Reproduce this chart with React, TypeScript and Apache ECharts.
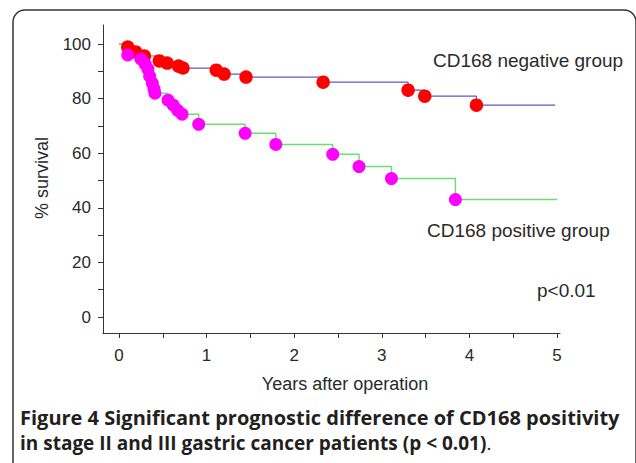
import React, { useEffect, useRef } from "react";
import * as echarts from "echarts";

// Kaplan-Meier data (years, % survival) at each drop
const negTimes = [0.10, 0.19, 0.29, 0.46, 0.55, 0.68, 0.73, 1.11, 1.20, 1.45, 2.33, 3.30, 3.49, 4.08];
const negSurv = [98.9, 97.1, 95.6, 93.8, 93.0, 91.9, 91.2, 90.4, 89.0, 87.9, 86.0, 83.1, 80.9, 77.6];
const negEnd = 4.98;

const posTimes = [0.10, 0.25, 0.30, 0.33, 0.35, 0.38, 0.40, 0.41, 0.56, 0.62, 0.67, 0.72, 0.91, 1.44, 1.79, 2.44, 2.74, 3.11, 3.84];
const posSurv = [96.0, 94.5, 92.6, 90.8, 88.2, 85.7, 83.5, 82.0, 79.4, 77.6, 75.7, 74.3, 70.6, 67.3, 63.2, 59.6, 55.1, 50.7, 43.0];
const posEnd = 5.0;

const xTickValues = [0, 0.5, 1, 1.5, 2, 2.5, 3, 3.5, 4, 4.5, 5];
const xLabelValues = [0, 1, 2, 3, 4, 5];
const yTickValues = [0, 10, 20, 30, 40, 50, 60, 70, 80, 90, 100];
const yLabelValues = [0, 20, 40, 60, 80, 100];

const negLabel = "CD168 negative group";
const posLabel = "CD168 positive group";
const pLabel = "p<0.01";
const xTitle = "Years after operation";
const yTitle = "% survival";
const captionLine1 = "Figure 4 Significant prognostic difference of CD168 positivity";
const captionLine2 = "in stage II and III gastric cancer patients (p < 0.01)";

function stepData(times: number[], surv: number[], end: number) {
  const d: number[][] = [[0, 100]];
  times.forEach((t, i) => d.push([t, surv[i]]));
  d.push([end, surv[surv.length - 1]]);
  return d;
}

export default function App() {
  const ref = useRef<HTMLDivElement>(null);
  useEffect(() => {
    if (!ref.current) return;
    const chart = echarts.init(ref.current, null, { renderer: "svg" });
    const axisFont = "Liberation Sans";
    const axisColor = "#2a2a2a";
    chart.setOption({
      animation: false,
      backgroundColor: "#ffffff",
      grid: { left: 103, top: 25, width: 457, height: 308 },
      xAxis: {
        type: "value",
        min: -0.1826,
        max: 5.034,
        axisLine: { show: true, onZero: false, lineStyle: { color: "#333", width: 1 } },
        axisTick: { show: true, customValues: xTickValues, length: 5, lineStyle: { color: "#333" } },
        axisLabel: { customValues: xLabelValues, margin: 14, fontSize: 17, color: axisColor, fontFamily: axisFont },
        splitLine: { show: false },
      },
      yAxis: {
        type: "value",
        min: -5.86,
        max: 106.96,
        axisLine: { show: true, onZero: false, lineStyle: { color: "#333", width: 1 } },
        axisTick: { show: true, customValues: yTickValues, length: 5, lineStyle: { color: "#333" } },
        axisLabel: { customValues: yLabelValues, margin: 12, fontSize: 17, color: axisColor, fontFamily: axisFont },
        splitLine: { show: false },
      },
      series: [
        {
          type: "line",
          step: "end",
          data: stepData(negTimes, negSurv, negEnd),
          symbol: "none",
          lineStyle: { color: "#5a5ad0", width: 1.2 },
          z: 2,
        },
        {
          type: "line",
          step: "end",
          data: stepData(posTimes, posSurv, posEnd),
          symbol: "none",
          lineStyle: { color: "#72dc72", width: 1.5 },
          z: 2,
        },
        {
          type: "scatter",
          data: negTimes.map((t, i) => [t, negSurv[i]]),
          symbolSize: 13.5,
          itemStyle: { color: "#ff0000", opacity: 1 },
          z: 3,
        },
        {
          type: "scatter",
          data: posTimes.map((t, i) => [t, posSurv[i]]),
          symbolSize: 13,
          itemStyle: { color: "#ff00ff", opacity: 1 },
          z: 4,
        },
      ],
      graphic: [
        {
          type: "rect",
          shape: { x: 13, y: 10, width: 623, height: 480, r: 12 },
          style: { fill: "none", stroke: "#333", lineWidth: 1.5 },
          silent: true,
        },
        {
          type: "text",
          x: 433, y: 60,
          style: { text: negLabel, font: `19px ${axisFont}`, fill: axisColor, textAlign: "left", textVerticalAlign: "middle" },
        },
        {
          type: "text",
          x: 427, y: 230,
          style: { text: posLabel, font: `19px ${axisFont}`, fill: axisColor, textAlign: "left", textVerticalAlign: "middle" },
        },
        {
          type: "text",
          x: 537, y: 290,
          style: { text: pLabel, font: `19px ${axisFont}`, fill: axisColor, textAlign: "left", textVerticalAlign: "middle" },
        },
        {
          type: "text",
          x: 345, y: 384,
          style: { text: xTitle, font: `18px ${axisFont}`, fill: axisColor, textAlign: "center", textVerticalAlign: "middle" },
        },
        {
          type: "text",
          x: 42, y: 178,
          rotation: Math.PI / 2,
          style: { text: yTitle, font: `18px ${axisFont}`, fill: axisColor, textAlign: "center", textVerticalAlign: "middle" },
        },
        {
          type: "text",
          x: 20, y: 417,
          style: { text: captionLine1, font: `bold 20px 'Open Sans'`, fill: "#231f20", textAlign: "left", textVerticalAlign: "middle" },
        },
        {
          type: "text",
          x: 20, y: 443,
          style: {
            text: captionLine2 + "{n|.}",
            font: `bold 19px 'Open Sans'`,
            fill: "#231f20",
            textAlign: "left",
            textVerticalAlign: "middle",
            rich: { n: { fontWeight: "normal", fontSize: 19, fontFamily: "Open Sans", fill: "#231f20" } },
          },
        },
      ],
    });
    return () => chart.dispose();
  }, []);
  return (
    <div
      ref={ref}
      style={{ position: "absolute", left: 0, top: 0, width: 636, height: 463 }}
    />
  );
}
